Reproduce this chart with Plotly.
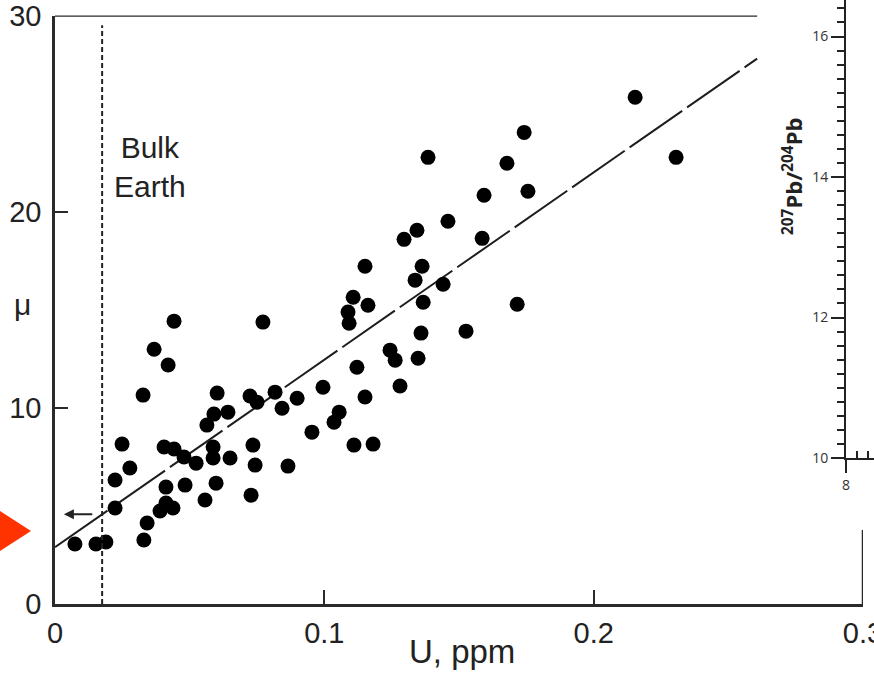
import plotly.graph_objects as go

# ---------------- data ----------------
U_ppm = [0.0442, 0.0772, 0.0368, 0.0420, 0.0327, 0.0602, 0.0724, 0.0750, 0.0590, 0.0642,
         0.0564, 0.0249, 0.0405, 0.0442, 0.0479, 0.0524, 0.0587, 0.0587, 0.0650, 0.0735,
         0.0743, 0.0278, 0.0223, 0.0483, 0.0598, 0.0412, 0.0728, 0.0557, 0.0223, 0.0390,
         0.0412, 0.0438, 0.0342, 0.0330, 0.0074, 0.0152, 0.0189,
         0.2154, 0.1742, 0.2306, 0.1385, 0.1678, 0.1593, 0.1756, 0.1459, 0.1344, 0.1296,
         0.1586, 0.1151, 0.1363, 0.1337, 0.1441, 0.1367, 0.1716, 0.1107, 0.1162, 0.1088,
         0.1092, 0.1359, 0.1526, 0.1244, 0.1263, 0.1348, 0.1121, 0.1281, 0.0817, 0.0899,
         0.0995, 0.0843, 0.1151, 0.1055, 0.1036, 0.0954, 0.1110, 0.1181, 0.0865]
mu = [14.42, 14.37, 12.99, 12.18, 10.65, 10.75, 10.60, 10.29, 9.68, 9.78,
      9.12, 8.15, 8.00, 7.90, 7.49, 7.18, 8.00, 7.44, 7.44, 8.10,
      7.08, 6.93, 6.32, 6.06, 6.16, 5.96, 5.55, 5.30, 4.89, 4.74,
      5.15, 4.89, 4.13, 3.26, 3.06, 3.06, 3.16,
      25.83, 24.04, 22.77, 22.77, 22.47, 20.84, 21.04, 19.51, 19.05, 18.59,
      18.64, 17.22, 17.22, 16.51, 16.30, 15.38, 15.28, 15.64, 15.23, 14.88,
      14.31, 13.81, 13.91, 12.94, 12.43, 12.53, 12.07, 11.11, 10.80, 10.49,
      11.05, 9.98, 10.55, 9.78, 9.27, 8.76, 8.10, 8.15, 7.03]

fit_U = [0.0, 0.2607]
fit_mu = [2.9, 27.8]
bulk_earth_U = 0.0175
bulk_earth_mu = 4.58

x_tick_vals = [0, 0.1, 0.2, 0.3]
x_tick_text = ["0", "0.1", "0.2", "0.3"]
y_tick_vals = [0, 10, 20, 30]
y_tick_text = ["0", "10", "20", "30"]

inset_y_ticks = [10, 12, 14, 16]
inset_x_ticks = [8]

# ---------------- layout helpers ----------------
W, H = 874, 681


def pxx(x):
    return x / W


def pxy(y):
    return 1 - y / H


AX = "#2a2a2a"
FONT = "Liberation Sans, Arial, sans-serif"

fig = go.Figure()

# regression line
fig.add_trace(go.Scatter(x=fit_U, y=fit_mu, mode="lines",
                         line=dict(color="#1e1e1e", width=2, dash="64px,6px"),
                         hoverinfo="skip", showlegend=False))
# data points
fig.add_trace(go.Scatter(x=U_ppm, y=mu, mode="markers",
                         marker=dict(color="black", size=15, line=dict(width=0)),
                         showlegend=False))
# inset (partly visible neighbouring panel)
fig.add_trace(go.Scatter(x=[None], y=[None], xaxis="x2", yaxis="y2",
                         showlegend=False, hoverinfo="skip"))

fig.update_layout(
    width=W, height=H,
    margin=dict(l=0, r=0, t=0, b=0, pad=0),
    paper_bgcolor="white", plot_bgcolor="white",
    showlegend=False,
    xaxis=dict(domain=[pxx(55), pxx(863)], range=[0, 0.3], automargin=False,
               tickmode="array", tickvals=x_tick_vals, ticktext=x_tick_text,
               ticks="inside", ticklen=14, tickwidth=2, tickcolor=AX,
               showline=True, linecolor=AX, linewidth=2.5,
               showgrid=False, zeroline=False, ticklabeloverflow="allow",
               tickfont=dict(family=FONT, size=29, color="#222"),
               ticklabelstandoff=1, anchor="y"),
    yaxis=dict(domain=[pxy(604), pxy(15.5)], range=[0, 30], automargin=False,
               tickmode="array", tickvals=y_tick_vals, ticktext=y_tick_text,
               ticks="inside", ticklen=13, tickwidth=2, tickcolor=AX,
               showline=True, linecolor=AX, linewidth=2.5,
               showgrid=False, zeroline=False, ticklabeloverflow="allow",
               tickfont=dict(family=FONT, size=29, color="#222"),
               ticklabelstandoff=5, anchor="x"),
    xaxis3=dict(overlaying="x", side="top", anchor="y", range=[0, 0.3], automargin=False,
                tickmode="array", tickvals=[0.1, 0.2], showticklabels=False,
                ticks="inside", ticklen=14, tickwidth=2, tickcolor=AX,
                showline=False, showgrid=False, zeroline=False),
    xaxis2=dict(domain=[pxx(846), 1], anchor="y2", range=[8, 8.5], automargin=False,
                tickmode="array", tickvals=inset_x_ticks,
                ticks="outside", ticklen=13, tickwidth=1.5, tickcolor="#222",
                minor=dict(tickmode="array", tickvals=[8.2, 8.4], ticks="inside",
                           ticklen=7, tickwidth=1.5, tickcolor="#222"),
                showline=True, linecolor="#222", linewidth=2,
                showgrid=False, zeroline=False, ticklabeloverflow="allow",
                tickfont=dict(family="Open Sans, sans-serif", size=14, color="#333")),
    yaxis2=dict(domain=[pxy(458), 1], anchor="x2", range=[10, 10 + 458 / 70.25],
                automargin=False,
                tickmode="array", tickvals=inset_y_ticks,
                ticks="outside", ticklen=13, tickwidth=1.5, tickcolor="#222",
                minor=dict(tickmode="linear", tick0=10, dtick=0.2, ticks="outside",
                           ticklen=7, tickwidth=1.5, tickcolor="#222"),
                showline=True, linecolor="#222", linewidth=2,
                showgrid=False, zeroline=False, ticklabeloverflow="allow",
                tickfont=dict(family="Open Sans, sans-serif", size=14, color="#333")),
)

# inset axis title
fig.add_annotation(x=pxx(810), y=pxy(116), xref="paper", yref="paper",
                   text="<b><sup>207</sup>Pb/<sup>204</sup>Pb</b>", textangle=-90,
                   showarrow=False,
                   font=dict(family="Open Sans, sans-serif", size=22, color="#222"))

# frame pieces that are not hidden by the neighbouring panel
fig.add_shape(type="line", xref="x", yref="y", x0=0, x1=fit_U[1], y0=30, y1=30,
              line=dict(color=AX, width=2.5))
fig.add_shape(type="line", xref="x", yref="y", x0=0.3, x1=0.3, y0=0, y1=3.77,
              line=dict(color=AX, width=2.5))
# bulk earth dashed line
fig.add_shape(type="line", xref="x", yref="y", x0=bulk_earth_U, x1=bulk_earth_U,
              y0=0, y1=29.5, line=dict(color="#222", width=2, dash="5px,3px"))

# red pointer triangle
fig.add_shape(type="path", xref="paper", yref="paper",
              path=f"M {pxx(0)},{pxy(511)} L {pxx(31)},{pxy(531)} L {pxx(0)},{pxy(551)} Z",
              fillcolor="#ff3300", line=dict(width=0))

# arrow from the bulk-earth line to the mu axis
fig.add_annotation(x=0.0033, y=bulk_earth_mu, ax=0.0144, ay=bulk_earth_mu,
                   xref="x", yref="y", axref="x", ayref="y",
                   text="", showarrow=True, arrowhead=2, arrowsize=1,
                   arrowwidth=2, arrowcolor="#222")

fig.add_annotation(x=0.0353, y=22.3, xref="x", yref="y", text="Bulk<br>Earth",
                   showarrow=False, align="center",
                   font=dict(family=FONT, size=30, color="#222"))

fig.add_annotation(x=pxx(462), y=pxy(672), xref="paper", yref="paper",
                   text="U, ppm", showarrow=False,
                   font=dict(family=FONT, size=33, color="#222"))
fig.add_annotation(x=pxx(12), y=pxy(304), xref="paper", yref="paper",
                   text="μ", showarrow=False,
                   font=dict(family=FONT, size=30, color="#222"))

fig.write_html("out.html", config={"displayModeBar": False},
               post_script="document.body.style.margin='0px';"
                           "document.body.style.padding='0px';")
